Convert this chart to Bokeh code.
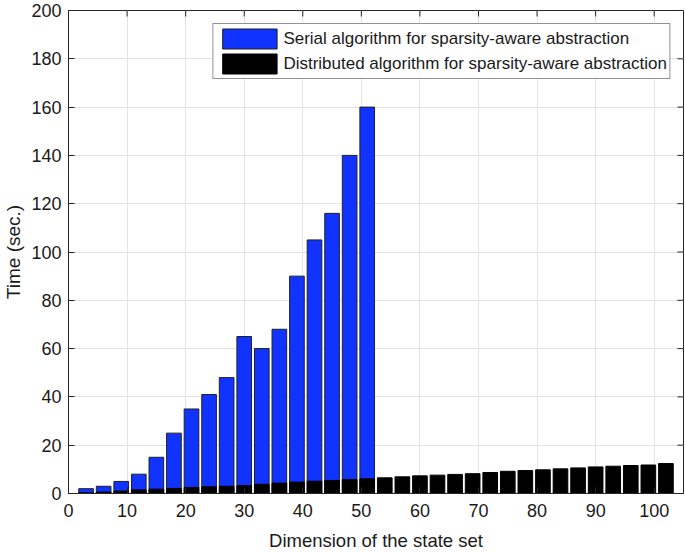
import math
from bokeh.plotting import figure
from bokeh.models import Range1d, FixedTicker, Legend, LegendItem, ColumnDataSource
from bokeh.embed import file_html
from bokeh.resources import INLINE

# ---- data ----
dims_serial = [3, 6, 9, 12, 15, 18, 21, 24, 27, 30, 33, 36, 39, 42, 45, 48, 51]
serial_time = [2, 3, 5, 8, 15, 25, 35, 41, 48, 65, 60, 68, 90, 105, 116, 140, 160]

dims_dist = [3, 6, 9, 12, 15, 18, 21, 24, 27, 30, 33, 36, 39, 42, 45, 48, 51,
             54, 57, 60, 63, 66, 69, 72, 75, 78, 81, 84, 87, 90, 93, 96, 99, 102]
dist_time = [0.3, 0.6, 1.0, 1.5, 1.8, 2.1, 2.5, 2.8, 3.0, 3.3, 3.8, 4.3, 4.7, 5.1, 5.4, 5.8, 6.1,
             6.5, 6.9, 7.3, 7.6, 7.9, 8.2, 8.7, 9.2, 9.5, 9.8, 10.2, 10.6, 11.0, 11.3, 11.6, 11.8, 12.4]

x_ticks = [0, 10, 20, 30, 40, 50, 60, 70, 80, 90, 100]
y_ticks = [0, 20, 40, 60, 80, 100, 120, 140, 160, 180, 200]
x_lim = [0, 105]
y_lim = [0, 200]

series_names = ["Serial algorithm for sparsity-aware abstraction",
                "Distributed algorithm for sparsity-aware abstraction"]

FONT = "Liberation Sans"
BLUE = "#1033ff"
TXT = "#1a1a1a"
AX = "#262626"

p = figure(width=685, height=553, output_backend="svg", toolbar_location=None,
           x_range=Range1d(*x_lim), y_range=Range1d(*y_lim),
           x_axis_label="Dimension of the state set", y_axis_label="Time (sec.)",
           min_border_top=10, min_border_right=2, min_border_left=0, min_border_bottom=60)

p.background_fill_color = "white"
p.border_fill_color = "white"
p.outline_line_color = AX
p.outline_line_width = 1

src_s = ColumnDataSource(dict(x=dims_serial, top=serial_time))
src_d = ColumnDataSource(dict(x=dims_dist, top=dist_time))

r_s = p.vbar(x="x", top="top", bottom=0, width=2.5, source=src_s,
             fill_color=BLUE, line_color="#202020", line_width=1)
r_d = p.vbar(x="x", top="top", bottom=0, width=2.5, source=src_d,
             fill_color="black", line_color="black", line_width=1)

# grid
p.xgrid.ticker = FixedTicker(ticks=x_ticks)
p.ygrid.ticker = FixedTicker(ticks=y_ticks)
for g in (p.xgrid[0], p.ygrid[0]):
    g.grid_line_color = "#e3e3e3"
    g.grid_line_width = 1

def style_axis(ax, ticks):
    ax.ticker = FixedTicker(ticks=ticks)
    ax.axis_line_color = AX
    ax.axis_line_width = 1
    ax.major_tick_line_color = AX
    ax.major_tick_in = 6
    ax.major_tick_out = 0
    ax.minor_tick_line_color = None
    ax.major_label_text_font = FONT
    ax.major_label_text_color = TXT
    ax.axis_label_text_font = FONT
    ax.axis_label_text_color = TXT
    ax.axis_label_text_font_style = "normal"

xa = p.xaxis[0]
ya = p.yaxis[0]
style_axis(xa, x_ticks)
style_axis(ya, y_ticks)
xa.major_label_text_font_size = "18px"
ya.major_label_text_font_size = "18px"
xa.axis_label_text_font_size = "18.5px"
ya.axis_label_text_font_size = "19px"
xa.major_label_standoff = 10
ya.major_label_standoff = 7
xa.axis_label_standoff = 10
ya.axis_label_standoff = 4

# inward ticks on the top and right edges of the box (MATLAB "box on")
p.ray(x=x_ticks, y=[y_lim[1]] * len(x_ticks), length=6, length_units="screen",
      angle=-math.pi / 2, line_color=AX, line_width=1)
p.ray(x=[x_lim[1]] * len(y_ticks), y=y_ticks, length=6, length_units="screen",
      angle=math.pi, line_color=AX, line_width=1)

legend = Legend(items=[LegendItem(label=series_names[0], renderers=[r_s]),
                       LegendItem(label=series_names[1], renderers=[r_d])],
                location="top_right")
legend.label_text_font = FONT
legend.label_text_font_size = "17px"
legend.label_text_color = TXT
legend.glyph_width = 68
legend.glyph_height = 25
legend.label_height = 25
legend.label_standoff = 0
legend.spacing = 0
legend.padding = 2
legend.margin = 13
legend.border_line_color = AX
legend.border_line_width = 1
legend.background_fill_color = "white"
legend.background_fill_alpha = 1
p.add_layout(legend, "center")

open("out.html", "w").write(file_html(p, INLINE))
